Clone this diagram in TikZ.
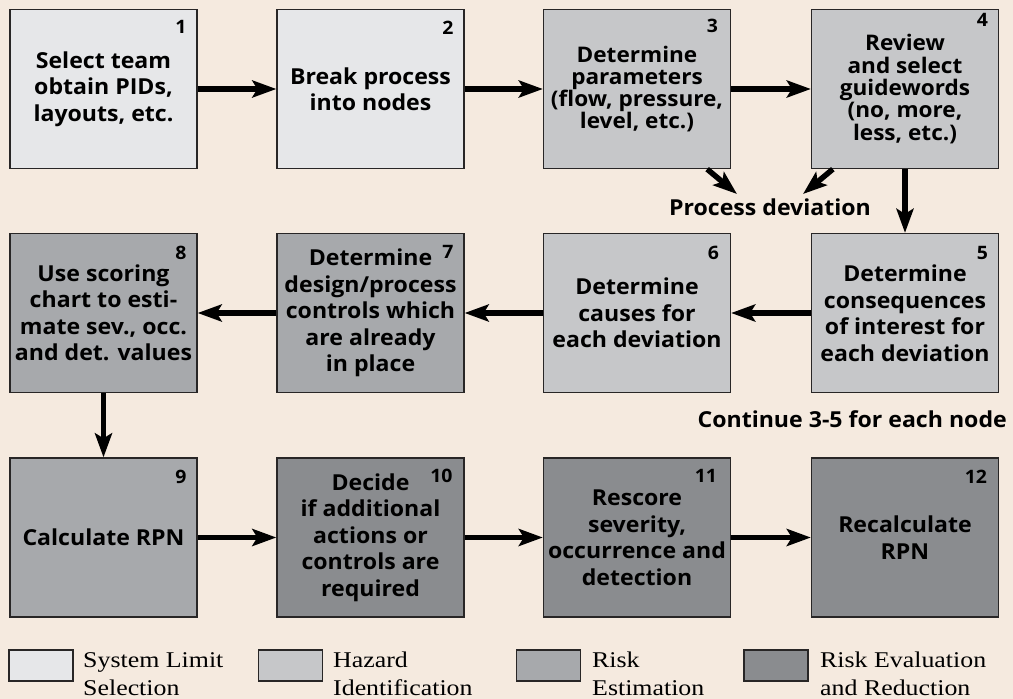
\documentclass[tikz,border=0pt]{standalone}
\usepackage{fontspec}
\setmainfont[FakeStretch=1.05]{Open Sans}
\newfontfamily\legfont[FakeStretch=1.15]{Liberation Serif}
\usetikzlibrary{arrows.meta}
\definecolor{bg}{RGB}{245,234,223}
\definecolor{cA}{RGB}{230,231,233}
\definecolor{cB}{RGB}{198,199,201}
\definecolor{cC}{RGB}{167,169,172}
\definecolor{cD}{RGB}{138,140,143}
\definecolor{edge}{RGB}{40,38,38}
\begin{document}
\begin{tikzpicture}[x=1pt,y=-1pt,
  box/.style={draw=edge, line width=1.3pt, minimum width=187pt, minimum height=159pt,
    inner sep=0pt, align=center, font=\bfseries\fontsize{22}{26.5}\selectfont},
  tight/.style={font=\bfseries\fontsize{21.5}{22.3}\selectfont},
  num/.style={anchor=base east, inner sep=0pt, font=\bfseries\fontsize{18.5}{20}\selectfont},
  lbl/.style={inner sep=0pt, font=\bfseries\fontsize{22}{26}\selectfont},
  flow/.style={line width=5.5pt, -{Stealth[length=24pt,width=17pt,inset=5pt]}},
  legbox/.style={draw=edge, line width=1.2pt, minimum width=64pt, minimum height=31pt, inner sep=0pt},
  legtxt/.style={inner sep=0pt, align=left, anchor=base west, font=\legfont\fontsize{22.5}{28}\selectfont},
]
\fill[bg] (0,0) rectangle (1013,699);
\useasboundingbox (0,0) rectangle (1013,699);

% row 1
\node[box, fill=cA] (b1) at (103.5,89) {Select team\\obtain PIDs,\\layouts, etc.};
\node[box, fill=cA] (b2) at (370.5,89) {Break process\\into nodes};
\node[box, fill=cB, tight] (b3) at (637,89) {Determine\\parameters\\(flow, pressure,\\level, etc.)};
\node[box, fill=cB, tight] (b4) at (905,89) {Review\\and select\\guidewords\\(no, more,\\less, etc.)};
% row 2
\node[box, fill=cB] (b5) at (905,313) {Determine\\consequences\\of interest for\\each deviation};
\node[box, fill=cB] (b6) at (637,313) {Determine\\causes for\\each deviation};
\node[box, fill=cC] (b7) at (370.5,313) {Determine\\design/process\\controls which\\are already\\in place};
\node[box, fill=cC] (b8) at (103.5,313) {Use scoring\\chart to esti-\\mate sev., occ.\\and det. values};
% row 3
\node[box, fill=cC] (b9) at (103.5,537.5) {Calculate RPN};
\node[box, fill=cD] (b10) at (370.5,537.5) {Decide\\if additional\\actions or\\controls are\\required};
\node[box, fill=cD] (b11) at (637,537.5) {Rescore\\severity,\\occurrence and\\detection};
\node[box, fill=cD] (b12) at (905,537.5) {Recalculate\\RPN};

% numbers
\node[num] (n1) at ([xshift=-11pt,yshift=-25pt]b1.north east) {1};
\node[num] (n2) at ([xshift=-11pt,yshift=-26pt]b2.north east) {2};
\node[num] (n3) at ([xshift=-13pt,yshift=-24pt]b3.north east) {3};
\node[num] (n4) at ([xshift=-11pt,yshift=-18pt]b4.north east) {4};
\node[num] (n5) at ([xshift=-11pt,yshift=-27pt]b5.north east) {5};
\node[num] (n6) at ([xshift=-12pt,yshift=-27pt]b6.north east) {6};
\node[num] (n7) at ([xshift=-11pt,yshift=-26pt]b7.north east) {7};
\node[num] (n8) at ([xshift=-11pt,yshift=-27pt]b8.north east) {8};
\node[num] (n9) at ([xshift=-11pt,yshift=-26pt]b9.north east) {9};
\node[num] (n10) at ([xshift=-12pt,yshift=-25pt]b10.north east) {10};
\node[num] (n11) at ([xshift=-14pt,yshift=-25pt]b11.north east) {11};
\node[num] (n12) at ([xshift=-12pt,yshift=-26pt]b12.north east) {12};

% labels
\node[lbl, anchor=base] (pd) at (770,215) {Process deviation};
\node[lbl, anchor=base east] (cont) at (1007,427) {Continue 3-5 for each node};
\coordinate (pdl) at (737,194);
\coordinate (pdr) at (803,194);

% connectors
\draw[flow] (b1.east) -- (b2.west);
\draw[flow] (b2.east) -- (b3.west);
\draw[flow] (b3.east) -- (b4.west);
\draw[flow] (b4.south) -- (b5.north);
\draw[flow] (b5.west) -- (b6.east);
\draw[flow] (b6.west) -- (b7.east);
\draw[flow] (b7.west) -- (b8.east);
\draw[flow] (b8.south) -- (b9.north);
\draw[flow] (b9.east) -- (b10.west);
\draw[flow] (b10.east) -- (b11.west);
\draw[flow] (b11.east) -- (b12.west);
\draw[flow] ([xshift=-24pt]b3.south east) -- (pdl);
\draw[flow] ([xshift=22pt]b4.south west) -- (pdr);

% legend
\node[legbox, fill=cA] (l1) at (41,665.5) {};
\node[legbox, fill=cB] (l2) at (290.5,665.5) {};
\node[legbox, fill=cC] (l3) at (548.5,665.5) {};
\node[legbox, fill=cD] (l4) at (776,665.5) {};
\node[legtxt] (t1) at (83,695) {System Limit\\Selection};
\node[legtxt] (t2) at (333,695) {Hazard\\Identification};
\node[legtxt] (t3) at (592,695) {Risk\\Estimation};
\node[legtxt] (t4) at (820,695) {Risk Evaluation\\and Reduction};
\end{tikzpicture}
\end{document}
